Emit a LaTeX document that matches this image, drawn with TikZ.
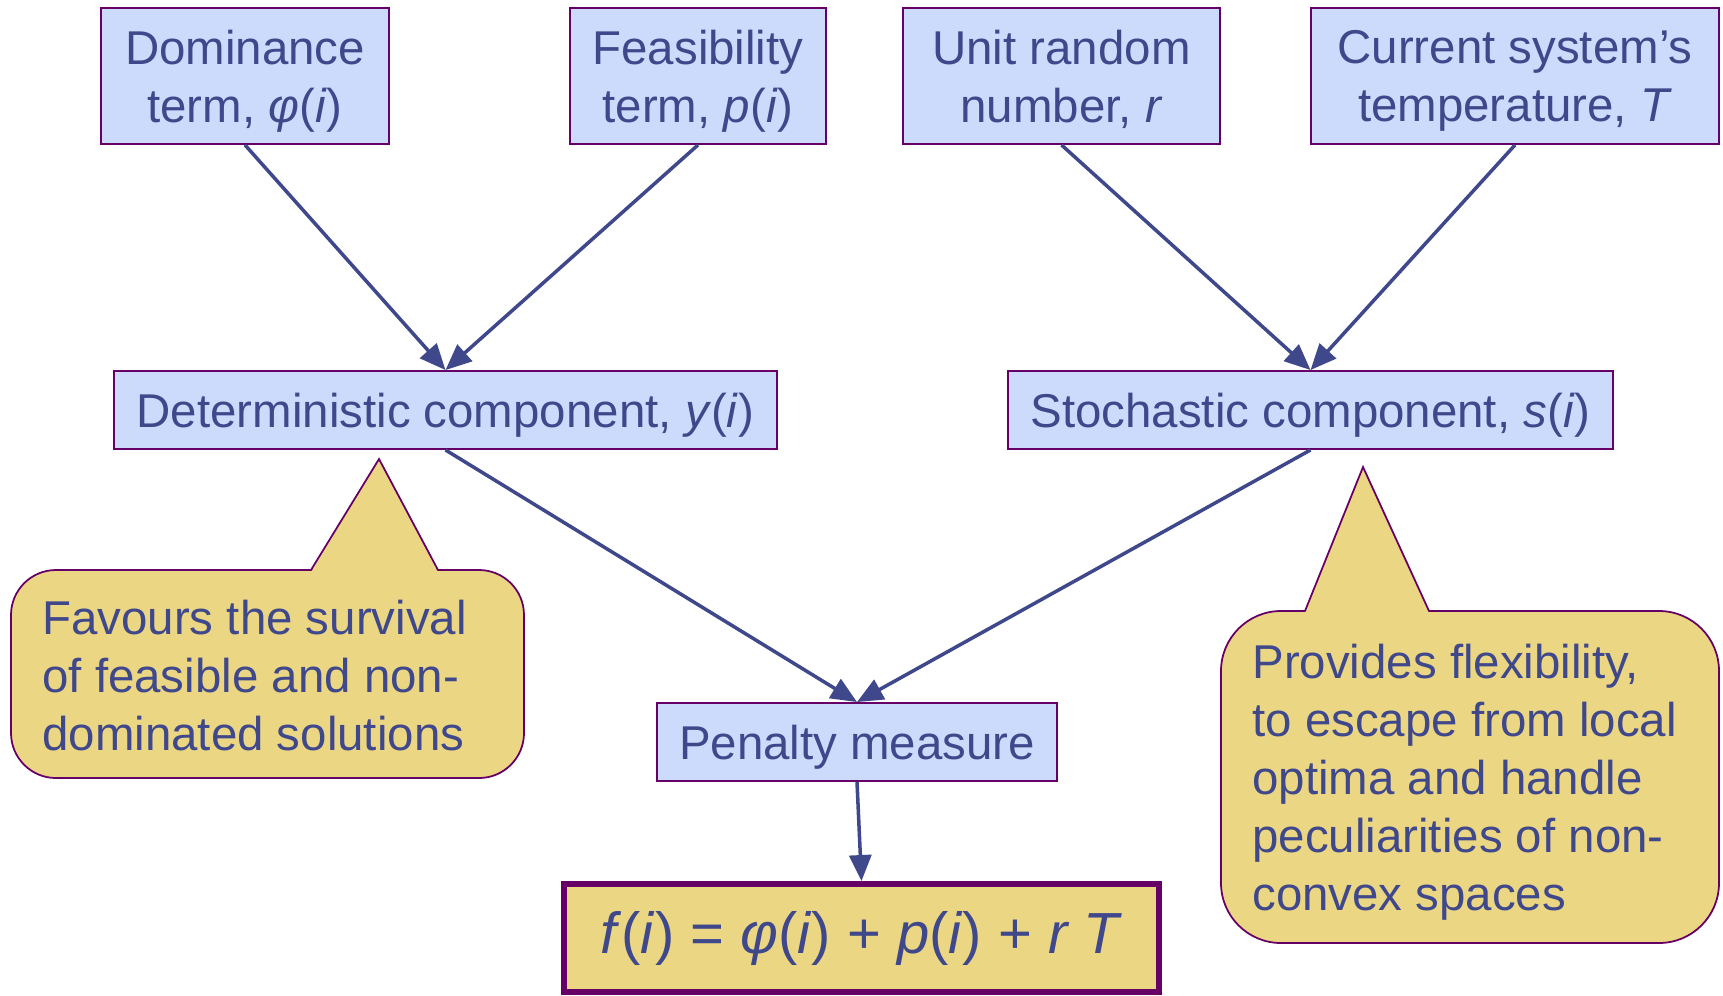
\documentclass[tikz,border=0pt]{standalone}
\usepackage{fontspec}
\setmainfont{Liberation Sans}
\usetikzlibrary{arrows.meta}
\definecolor{txtblue}{RGB}{64,72,140}
\definecolor{boxfill}{RGB}{204,218,251}
\definecolor{plum}{RGB}{102,0,102}
\definecolor{notefill}{RGB}{235,214,131}
\begin{document}
\begin{tikzpicture}[x=0.02cm, y=-0.02cm,
    every node/.style={font=\fontsize{27}{33}\selectfont, text=txtblue},
    box/.style={draw=plum, line width=1.1pt, fill=boxfill, align=center, inner sep=0pt, text depth=0pt},
    arr/.style={draw=txtblue, line width=2pt, -{Triangle[length=0.52cm,width=0.44cm]}},
    note/.style={draw=plum, line width=1pt, fill=notefill}]
    \useasboundingbox (0,0) rectangle (1723,995);

    % inputs
    \node[box, minimum width=5.76cm, minimum height=2.72cm] (dom) at (245,76) {Dominance\\term, \textit{φ}(\textit{i})};
    \node[box, minimum width=5.12cm, minimum height=2.72cm] (feas) at (698,76) {Feasibility\\term, \textit{p}(\textit{i})};
    \node[box, minimum width=6.34cm, minimum height=2.72cm] (rnd) at (1061.5,76) {Unit random\\number, \textit{r}};
    \node[box, minimum width=8.16cm, minimum height=2.72cm] (temp) at (1515,76) {Current system’s\\temperature, \textit{T}};

    % components
    \node[box, minimum width=13.26cm, minimum height=1.56cm] (det) at (445.5,410) {Deterministic component, \textit{y}(\textit{i})};
    \node[box, minimum width=12.1cm, minimum height=1.56cm] (sto) at (1310.5,410) {Stochastic component, \textit{s}(\textit{i})};
    \node[box, minimum width=8cm, minimum height=1.56cm] (pen) at (857,742) {Penalty measure};
    \node[box, fill=notefill, line width=3.4pt, minimum width=11.9cm, minimum height=2.16cm, text depth=,
          font=\fontsize{33}{40}\selectfont] (fit) at (861.5,938)
          {\textit{f}(\textit{i}) = \textit{φ}(\textit{i}) + \textit{p}(\textit{i}) + \textit{r T}};

    \draw[arr] (dom.south) -- (det.north);
    \draw[arr] (feas.south) -- (det.north);
    \draw[arr] (rnd.south) -- (sto.north);
    \draw[arr] (temp.south) -- (sto.north);
    \draw[arr] (det.south) -- (pen.north);
    \draw[arr] (sto.south) -- (pen.north);
    \draw[arr] (pen.south) -- (fit.north);

    % callouts
    \draw[note, rounded corners=0.9cm] (11,570) rectangle (524,778);
    \fill[notefill] (311,572) -- (379,459) -- (438,572) -- cycle;
    \draw[plum, line width=1pt] (311,570) -- (379,459) -- (438,570);
    \node[anchor=west, align=left, inner sep=0pt] (favours) at (42,676)
        {Favours the survival\\of feasible and non-\\dominated solutions};

    \draw[note, rounded corners=1.2cm] (1221,611) rectangle (1719,943);
    \fill[notefill] (1305,613) -- (1363,467) -- (1429,613) -- cycle;
    \draw[plum, line width=1pt] (1305,611) -- (1363,467) -- (1429,611);
    \node[anchor=west, align=left, inner sep=0pt] (provides) at (1252,782)
        {Provides flexibility,\\to escape from local\\optima and handle\\peculiarities of non-\\convex spaces};
\end{tikzpicture}
\end{document}
